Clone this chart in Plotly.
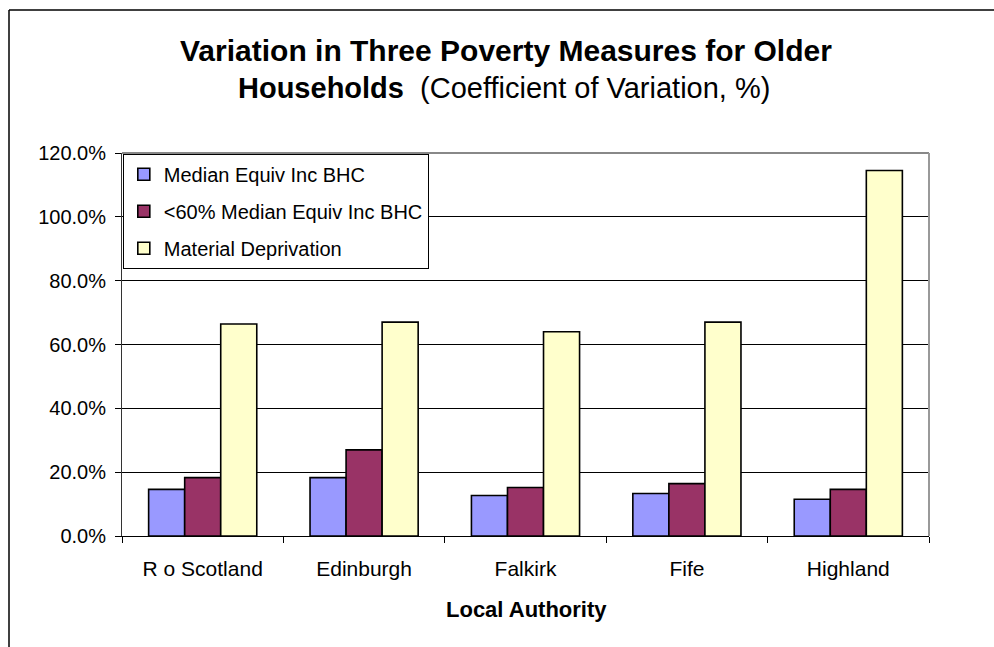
import plotly.graph_objects as go

# Local authorities and coefficient of variation (fraction) for each poverty measure
authorities = ["R o Scotland", "Edinburgh", "Falkirk", "Fife", "Highland"]
median_equiv_inc_bhc = [0.146, 0.183, 0.127, 0.133, 0.115]
below60_median_bhc = [0.183, 0.270, 0.152, 0.164, 0.146]
material_deprivation = [0.664, 0.670, 0.640, 0.670, 1.145]

series_names = ["Median Equiv Inc BHC", "<60% Median Equiv Inc BHC", "Material Deprivation"]
series_values = [median_equiv_inc_bhc, below60_median_bhc, material_deprivation]
series_colors = ["#9999FF", "#993366", "#FFFFCC"]

W, H = 994, 647
ML, MR, MT, MB = 122, 65, 153, 111
PW, PH = W - ML - MR, H - MT - MB
FONT = "Liberation Sans, Arial, sans-serif"


def px_x(p):
    return (p - ML) / PW


def px_y(p):
    return (H - MB - p) / PH


fig = go.Figure()
for i, (name, vals, col) in enumerate(zip(series_names, series_values, series_colors)):
    fig.add_trace(go.Bar(
        x=authorities, y=vals, name=name, legendgroup=f"g{i}",
        marker=dict(color=col, line=dict(color="#000000", width=1.6)),
    ))

fig.update_layout(
    width=W, height=H,
    margin=dict(l=ML, r=MR, t=MT, b=MB),
    paper_bgcolor="white", plot_bgcolor="white",
    barmode="group", bargap=0.33, bargroupgap=0.0,
    font=dict(family=FONT, color="#000000", size=20),
    showlegend=True,
    legend=dict(
        x=0.001, y=0.998, xanchor="left", yanchor="top",
        bgcolor="white", bordercolor="#000000", borderwidth=1,
        font=dict(family=FONT, size=20, color="#000000"),
        tracegroupgap=8, traceorder="grouped",
        itemwidth=30,
    ),
    xaxis=dict(
        showline=True, linecolor="#000000", linewidth=1,
        ticks="outside", ticklen=6, tickcolor="#000000", tickson="boundaries",
        ticklabelstandoff=14, showgrid=False,
        tickfont=dict(family=FONT, size=21),
    ),
    yaxis=dict(
        range=[0, 1.2], dtick=0.2, tickformat=".1%",
        showline=True, linecolor="#333333", linewidth=1,
        ticks="outside", ticklen=6, tickcolor="#000000",
        ticklabelstandoff=5,
        showgrid=True, gridcolor="#000000", gridwidth=1,
        zeroline=False,
        tickfont=dict(family=FONT, size=20),
    ),
)

# Plot area frame (top and right edges) and outer chart border
fig.add_shape(type="line", xref="paper", yref="paper", x0=0, x1=1, y0=1, y1=1,
              line=dict(color="#888888", width=2))
fig.add_shape(type="line", xref="paper", yref="paper", x0=1, x1=1, y0=0, y1=1,
              line=dict(color="#999999", width=2))
fig.add_shape(type="line", xref="paper", yref="paper",
              x0=px_x(9), x1=px_x(W + 5), y0=px_y(10), y1=px_y(10),
              line=dict(color="#000000", width=1.5))
fig.add_shape(type="line", xref="paper", yref="paper",
              x0=px_x(9), x1=px_x(9), y0=px_y(10), y1=px_y(H + 5),
              line=dict(color="#000000", width=1.5))

# Two-line title
fig.add_annotation(
    xref="paper", yref="paper", x=px_x(506), y=px_y(50),
    xanchor="center", yanchor="middle", showarrow=False,
    text="<b>Variation in Three Poverty Measures for Older</b>",
    font=dict(family=FONT, size=30, color="#000000"),
)
fig.add_annotation(
    xref="paper", yref="paper", x=px_x(504), y=px_y(88),
    xanchor="center", yanchor="middle", showarrow=False,
    text="<b>Households</b>  (Coefficient of Variation, %)",
    font=dict(family=FONT, size=29, color="#000000"),
)

# X axis title
fig.add_annotation(
    xref="paper", yref="paper", x=px_x(526), y=px_y(609),
    xanchor="center", yanchor="middle", showarrow=False,
    text="<b>Local Authority</b>",
    font=dict(family=FONT, size=22, color="#000000"),
)

fig.write_html("out.html")
